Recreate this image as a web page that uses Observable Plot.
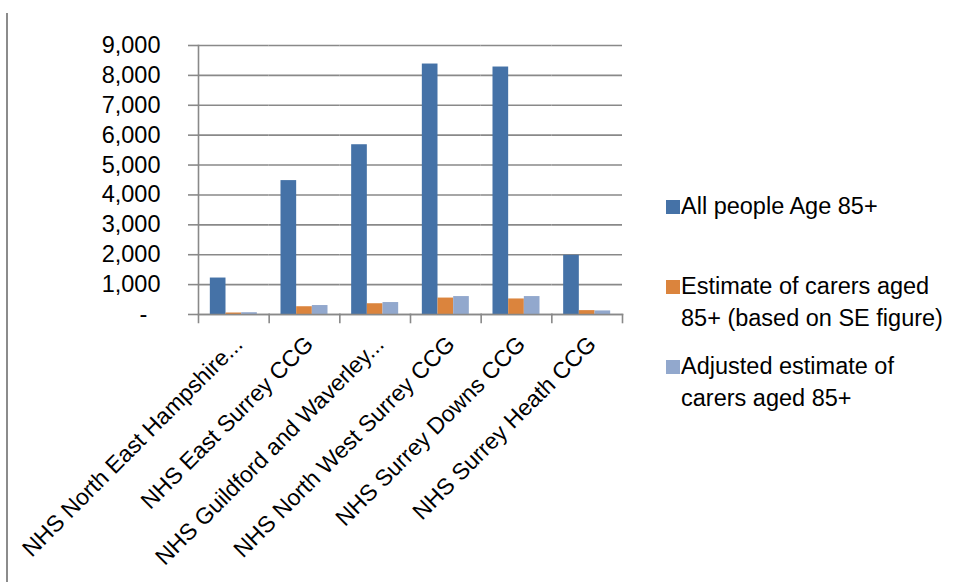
<!DOCTYPE html>
<html>
<head>
<meta charset="utf-8">
<script src="https://cdn.jsdelivr.net/npm/d3@7"></script>
<script src="https://cdn.jsdelivr.net/npm/@observablehq/plot@0.6"></script>
<style>
  html, body { margin: 0; padding: 0; background: #fff; }
  #wrap { position: relative; width: 962px; height: 582px; overflow: hidden;
          font-family: "Liberation Sans", Arial, sans-serif; color: #000; }
  #border { position: absolute; left: 6px; top: 13px; width: 0; height: 569px; border-left: 2px solid #8c8c8c; }
  #chart { position: absolute; left: 0; top: 0; }
  #legend { position: absolute; left: 666px; top: 0; }
  .item { position: absolute; left: 0; width: 290px; font-size: 23.5px; line-height: 32.4px; }
  .sw { position: absolute; left: 0; width: 14px; height: 14px; }
  .lbl { margin-left: 15px; width: 272px; }
</style>
</head>
<body>
<div id="wrap">
  <div id="border"></div>
  <div id="chart"></div>
  <div id="legend"></div>
</div>
<script>
const categories = [
  "NHS North East Hampshire...",
  "NHS East Surrey CCG",
  "NHS Guildford and Waverley...",
  "NHS North West Surrey CCG",
  "NHS Surrey Downs CCG",
  "NHS Surrey Heath CCG"
];
const seriesNames = [
  "All people Age 85+",
  "Estimate of carers aged 85+ (based on SE figure)",
  "Adjusted estimate of carers aged 85+"
];
const allPeople85 = [1220, 4480, 5680, 8380, 8280, 1980];
const estimateSE = [50, 260, 360, 550, 520, 130];
const adjustedEstimate = [60, 300, 400, 600, 600, 120];
const yTicks = [0, 1000, 2000, 3000, 4000, 5000, 6000, 7000, 8000, 9000];
const colors = ["#4572A7", "#DB843D", "#92A8CD"];

const seriesValues = [allPeople85, estimateSE, adjustedEstimate];
const rows = categories.flatMap((c, i) =>
  seriesNames.map((s, j) => ({category: c, series: s, value: seriesValues[j][i]}))
);

const W = 962, H = 582, mt = 45, mb = 268, ml = 198, mr = 340;
const lineColor = "#898989";

const chart = Plot.plot({
  width: W, height: H,
  marginTop: mt, marginBottom: mb, marginLeft: ml, marginRight: mr,
  style: {fontFamily: "'Liberation Sans', Arial, sans-serif", fontSize: "23.5px", color: "#000", background: "transparent"},
  fx: {domain: categories, padding: 0, round: false, label: null},
  x: {domain: seriesNames, paddingInner: 0, paddingOuter: 0.755, round: false, axis: null, label: null},
  y: {domain: [0, 9000], label: null},
  color: {domain: seriesNames, range: colors},
  marks: [
    Plot.gridY(yTicks, {stroke: lineColor, strokeOpacity: 1, strokeWidth: 1.6}),
    Plot.barY(rows, {fx: "category", x: "series", y: "value", fill: "series"}),
    Plot.axisY(yTicks, {
      tickSize: 10, tickPadding: 28, stroke: lineColor, strokeWidth: 1.6,
      tickFormat: d => d === 0 ? "-\u00a0\u00a0" : d3.format(",")(d),
      fontSize: "23.5px"
    }),
    Plot.frame({anchor: "left", facetAnchor: "left", insetBottom: -8, stroke: lineColor, strokeWidth: 1.6}),
    Plot.frame({anchor: "bottom", stroke: lineColor, strokeWidth: 1.6}),
    Plot.frame({anchor: "right", insetTop: H - mt - mb, insetBottom: -8, stroke: lineColor, strokeWidth: 1.6}),
    Plot.axisFx({anchor: "bottom", tickSize: 0, tickPadding: 26, tickRotate: -45, dx: 5, fontSize: "23px", label: null})
  ]
});
document.getElementById("chart").appendChild(chart);

// Legend built from the same series and color scale
const colorScale = chart.scale("color");
const legend = document.getElementById("legend");
const baselines = [214, 294, 374];
seriesNames.forEach((s, i) => {
  const item = document.createElement("div");
  item.className = "item";
  item.style.top = (baselines[i] - 24.3) + "px";
  const sw = document.createElement("div");
  sw.className = "sw";
  sw.style.top = (24.3 - 14) + "px";
  sw.style.background = colorScale.apply(s);
  const lbl = document.createElement("div");
  lbl.className = "lbl";
  lbl.textContent = s;
  item.appendChild(sw);
  item.appendChild(lbl);
  legend.appendChild(item);
});
</script>
</body>
</html>
